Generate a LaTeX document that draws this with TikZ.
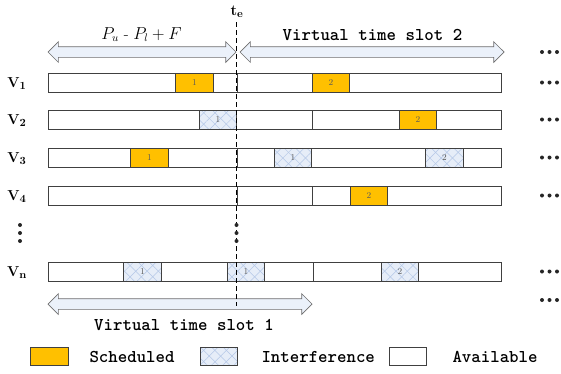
\documentclass[tikz,border=0pt]{standalone}
\usetikzlibrary{shapes.arrows,patterns.meta}
\definecolor{schedyellow}{HTML}{FFC000}
\definecolor{barline}{HTML}{404040}
\definecolor{hatchbg}{HTML}{E6EDF8}
\definecolor{hatchline}{HTML}{B4C7E7}
\definecolor{arrowfill}{HTML}{EBF1FA}
\definecolor{arrowline}{HTML}{6E6E6E}
\definecolor{numgray}{HTML}{595959}
\tikzset{
  bar/.style={draw=barline, line width=0.8pt, fill=white},
  slot/.style={draw=barline, line width=0.8pt, minimum width=37.5pt, minimum height=19pt,
    inner sep=0pt, font=\fontsize{9}{9}\selectfont, text=numgray},
  sched/.style={slot, fill=schedyellow},
  interf/.style={slot, fill=hatchbg,
    postaction={pattern={Lines[angle=45,distance=8pt,line width=0.5pt]}, pattern color=hatchline},
    postaction={pattern={Lines[angle=-45,distance=8pt,line width=0.5pt]}, pattern color=hatchline},
    postaction={draw=barline, line width=0.8pt}},
  avail/.style={slot, fill=white},
  bigarrow/.style={double arrow, draw=arrowline, fill=arrowfill, line width=0.7pt,
    inner xsep=0pt, inner ysep=5pt, double arrow head extend=5pt},
  monolab/.style={font=\fontsize{18}{18}\selectfont\ttfamily\bfseries, anchor=base},
  rowlab/.style={font=\fontsize{15}{15}\selectfont, anchor=base},
  dotc/.style={fill=black!85}
}
\begin{document}
\begin{tikzpicture}[x=1pt, y=-1pt]
\useasboundingbox (0,0) rectangle (561,373);
\foreach \nm/\lab/\yc/\divs/\slots in {
  v1/1/82.5/{237}/{194.5/sched/1, 331/sched/2},
  v2/2/119.5/{312}/{218/interf/1, 418/sched/2},
  v3/3/157.5/{237}/{149.5/sched/1, 293/interf/1, 444.5/interf/2},
  v4/4/195.5/{237,312}/{369/sched/2},
  vn/n/271.5/{313}/{142.5/interf/1, 246/interf/1, 400/interf/2}}{
  \draw[bar] (48,\yc-9.5) rectangle (501,\yc+9.5);
  \node[rowlab] (lab\nm) at (17,\yc+5) {$\mathbf{V_{\lab}}$};
  \foreach \d in \divs {\draw[barline, line width=0.8pt] (\d,\yc-9.5) -- (\d,\yc+9.5);}
  \foreach \xc/\kind/\num [count=\k] in \slots {\node[\kind] (\nm-\k) at (\xc,\yc) {\num};}
}
\node[bigarrow, minimum height=188pt] (gap) at (142,52) {};
\node[bigarrow, minimum height=264pt] (vts2) at (372,52) {};
\node[bigarrow, minimum height=264pt] (vts1) at (180,304) {};
\node[font=\fontsize{16}{16}\selectfont, anchor=base] (gaplab) at (141.5,39) {$P_u$ - $P_l+F$};
\node[monolab] (vts2lab) at (372.5,40) {Virtual time slot 2};
\node[monolab] (vts1lab) at (184,330) {Virtual time slot 1};
\node[font=\fontsize{15}{15}\selectfont\bfseries] (te) at (237,12) {t$_{\mathbf e}$};
\coordinate (tetop) at (236.5,22);
\coordinate (tebot) at (236.5,306);
\draw[line width=0.7pt, dash pattern=on 5pt off 3pt] (tetop) -- (tebot);
\foreach \yd in {225,233,241}{
  \fill[dotc] (20,\yd) circle (2);
  \fill[dotc] (236.5,\yd) circle (2);
}
\foreach \yd in {52,82.5,119.5,157.5,195.5,271.5,300}
  \foreach \xd in {542,549.5,557}
    \fill[dotc] (\xd,\yd) circle (2);
\node[sched, minimum height=18pt] (keysched) at (49.5,356) {};
\node[monolab, anchor=base west] (keyschedlab) at (86,362) {Scheduled};
\node[interf, minimum height=18pt] (keyinterf) at (219,356) {};
\node[monolab, anchor=base west] (keyinterflab) at (258,362) {Interference};
\node[avail, minimum height=18pt] (keyavail) at (408,356) {};
\node[monolab, anchor=base west] (keyavaillab) at (449,362) {Available};
\end{tikzpicture}
\end{document}
